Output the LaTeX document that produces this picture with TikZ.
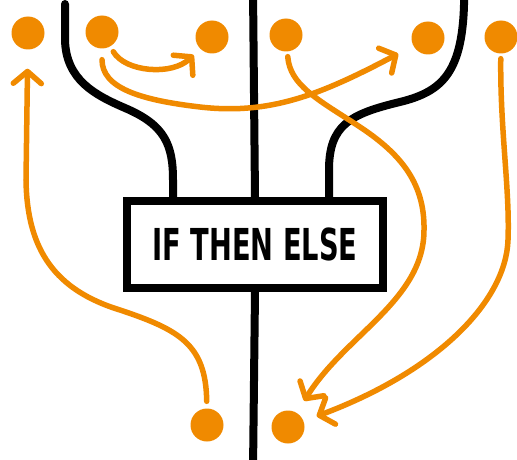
\documentclass[tikz,border=0pt]{standalone}
\usepackage{fontspec}
\setmainfont{DejaVu Sans}
\usepackage{graphicx}
\usepackage{tikz}
\usetikzlibrary{arrows.meta,calc}
\definecolor{InkBlack}{HTML}{000000}
\definecolor{SketchOrange}{HTML}{F08A00}

\begin{document}
\begin{tikzpicture}[x=1pt, y=-1pt,
  wire/.style={line width=8pt, InkBlack, line cap=round, line join=round},
  flow/.style={line width=5.5pt, SketchOrange, line cap=round,
    -{Straight Barb[length=12pt,width=28pt,round]}},
  token/.style={circle, fill=SketchOrange, inner sep=0pt, minimum size=33pt}]
  \clip (0,0) rectangle (517,460);

  % Free ends of the black lines
  \coordinate (lt) at (65,4);
  \coordinate (mt) at (253,-10);
  \coordinate (rt) at (464,-10);
  \coordinate (mb) at (253,470);

  % Decision box
  \node[draw, line width=8pt, fill=white, minimum width=256pt, minimum height=87pt,
        inner sep=0pt] (ite) at (255,244.5)
        {\scalebox{0.62}[1]{\fontsize{44}{44}\selectfont\bfseries IF THEN ELSE}};

  % Branches into the box
  \draw[wire] (lt) -- (65,40) .. controls (66,80) and (95,95) .. (125,108)
        .. controls (165,125) and (173,145) .. (173,180) -- ([xshift=-82pt]ite.north);
  \draw[wire] (mt) -- (ite.north);
  \draw[wire] (ite.south) -- (mb);
  \draw[wire] (rt) -- (464,5) .. controls (462,75) and (440,92) .. (400,102)
        .. controls (350,114) and (329,125) .. (329,170) -- ([xshift=74pt]ite.north);

  % Tokens
  \node[token] (t1) at (28,33) {};
  \node[token] (t2) at (102,32) {};
  \node[token] (t3) at (212,37) {};
  \node[token] (t4) at (286,35) {};
  \node[token] (t5) at (428,38) {};
  \node[token] (t6) at (501,37) {};
  \node[token] (b1) at (207,425) {};
  \node[token] (b2) at (288,427) {};

  % Moves
  \draw[flow, shorten <=7pt, shorten >=19pt] (b1) .. controls (206,345) and (180,330) .. (120,310)
        .. controls (55,290) and (27,250) .. (26,180) -- (t1);
  \draw[flow, shorten <=6pt, shorten >=9pt] (t2) .. controls (125,72) and (172,76) .. (t3);
  \draw[flow, shorten <=11pt, shorten >=17pt] (t2) .. controls (102,88) and (140,100) .. (200,107)
        .. controls (270,115) and (320,95) .. (t5);
  \draw[flow, shorten <=5pt, shorten >=14pt] (t4) .. controls (290,85) and (317,99) .. (357,125)
        .. controls (397,151) and (425,180) .. (424,230)
        .. controls (424,300) and (345,335) .. (b2);
  \draw[flow, shorten <=5pt, shorten >=14pt] (t6) .. controls (500,130) and (510,190) .. (508,240)
        .. controls (506,300) and (440,370) .. (b2);
\end{tikzpicture}
\end{document}
